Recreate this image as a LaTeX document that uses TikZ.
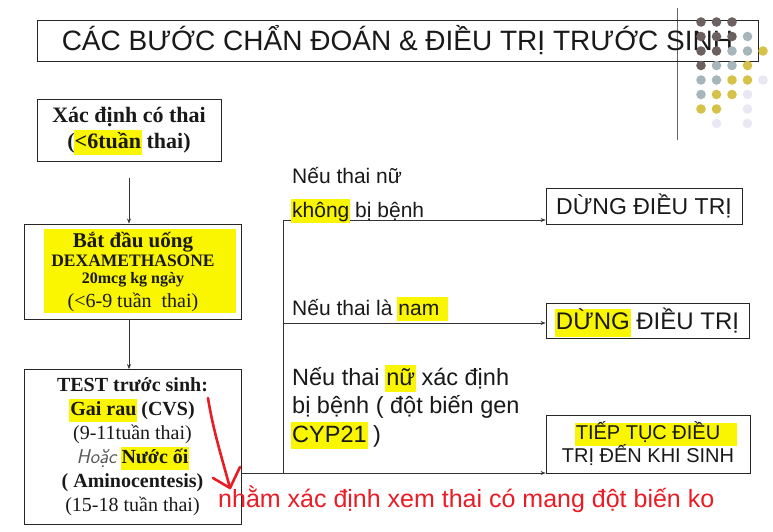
\documentclass[tikz,border=0pt]{standalone}
\usepackage{fontspec}
\setmainfont{Liberation Sans}
\newfontfamily\tnr{Liberation Serif}
\usetikzlibrary{arrows.meta}
\definecolor{hly}{RGB}{250,245,0}
\definecolor{redpen}{RGB}{232,28,36}
\definecolor{dotdark}{RGB}{108,96,96}
\definecolor{dotgray}{RGB}{166,182,188}
\definecolor{dotyel}{RGB}{214,194,72}
\definecolor{dotfaint}{RGB}{233,231,243}
% yellow marker behind a word, optional extra length on the right
\newcommand{\hl}[2][0pt]{\begingroup\setbox0\hbox{#2}%
  \rlap{\kern-1pt\smash{\color{hly}\rule[-0.3em]{\dimexpr\wd0+2pt+#1\relax}{1.15em}}}\box0\endgroup}

\begin{document}
\begin{tikzpicture}[x=1pt, y=-1pt,
    lbox/.style={draw=black!85, line width=0.9pt, align=center, inner sep=0pt, text=black!90},
    rbox/.style={draw=black!85, line width=0.9pt, align=center, inner sep=0pt, text=black!90},
    arr/.style={->, line width=0.6pt, draw=black!80},
    lbl/.style={anchor=base west, inner sep=0pt, align=left, text=black!90,
                font=\fontsize{21}{28}\selectfont},
    >={Stealth[length=5pt, width=4pt]}
  ]
  \useasboundingbox (0,0) rectangle (773,531);
  % template rule and title
  \draw[black!60, line width=0.6pt] (677,8) -- (677,140);
  \node[rbox, minimum width=721, minimum height=41,
        font=\fontsize{28}{30}\selectfont] (title) at (397.5,40.5)
        {CÁC BƯỚC CHẨN ĐOÁN \& ĐIỀU TRỊ TRƯỚC SINH};
  % dots of the slide template
  \foreach \c/\r/\col in {0/0/dotdark, 1/0/dotdark, 2/0/dotdark,
      0/1/dotdark, 1/1/dotdark, 2/1/dotdark, 3/1/dotgray,
      0/2/dotdark, 1/2/dotdark, 2/2/dotgray, 3/2/dotgray, 4/2/dotyel,
      0/3/dotdark, 1/3/dotgray, 2/3/dotgray, 3/3/dotyel,
      0/4/dotgray, 1/4/dotgray, 2/4/dotyel, 3/4/dotyel, 4/4/dotfaint,
      0/5/dotgray, 1/5/dotyel, 2/5/dotyel, 3/5/dotfaint,
      0/6/dotyel, 1/6/dotyel, 3/6/dotfaint,
      1/7/dotfaint, 3/7/dotfaint}
    \fill[\col] ({701+15.5*\c},{22+14.5*\r}) circle (4.8pt);

  % left column
  \node[lbox, minimum width=184, minimum height=62,
        font=\tnr\bfseries\fontsize{22}{26}\selectfont] (conf) at (129,130)
        {Xác định có thai\\(\hl{<6tuần} thai)};
  \fill[hly] (44,229) rectangle (236,313);
  \node[lbox, minimum width=217, minimum height=95,
        font=\tnr\bfseries\fontsize{20}{20}\selectfont] (dexa) at (133,271.5)
        {{\fontsize{21}{20}\selectfont Bắt đầu uống}\\[-1pt]
         {\fontsize{17.5}{20}\selectfont DEXAMETHASONE}\\[-3pt]
         {\fontsize{16}{20}\selectfont 20mcg kg ngày}\\[4pt]
         {\mdseries (<6-9 tuần\ \ thai)}};
  \node[lbox, minimum width=217, minimum height=155,
        font=\tnr\fontsize{20}{24}\selectfont] (test) at (132.5,447)
        {{\bfseries TEST trước sinh:}\\
         {\bfseries\hl{Gai rau} (CVS)}\\
         (9-11tuần thai)\\
         {\sffamily\itshape\color{black!65}Hoặc} {\bfseries\hl{Nước ối}}\\
         {\bfseries ( Aminocentesis)}\\
         (15-18 tuần thai)};
  \draw[arr, shorten <=17pt] (conf.south) -- (conf.south |- dexa.north);
  \draw[arr] (conf.south |- dexa.south) -- (conf.south |- test.north);

  % right column
  \node[rbox, minimum width=196, minimum height=36,
        font=\fontsize{23}{26}\selectfont] (stopA) at (644,206) {DỪNG ĐIỀU TRỊ};
  \node[rbox, minimum width=203, minimum height=35,
        font=\fontsize{24}{27}\selectfont] (stopB) at (647.5,320.5) {\hl{DỪNG} ĐIỀU TRỊ};
  \node[rbox, minimum width=204, minimum height=58,
        font=\fontsize{20}{23}\selectfont] (cont) at (648,444)
        {\hl[16pt]{TIẾP TỤC ĐIỀU}\\TRỊ ĐẾN KHI SINH};

  % branches
  \coordinate (j1) at (283,220);
  \coordinate (j2) at (283,323);
  \coordinate (j3) at (283,473);
  \draw[line width=0.6pt, black!80] (j1) -- (j3);
  \draw[arr] (j1) -- (j1 -| stopA.west);
  \draw[arr] (j2) -- (j2 -| stopB.west);
  \draw[arr] (test.east |- j3) -- (j3 -| cont.west);
  \node[lbl] (girl) at (292,183) {Nếu thai nữ};
  \node[lbl] (healthy) at (292,217) {\hl{không} bị bệnh};
  \node[lbl] (boy) at (292,315) {Nếu thai là \hl[8pt]{nam}};
  \node[lbl, font=\fontsize{23.5}{28.5}\selectfont] (sick) at (292,442)
        {Nếu thai \hl{nữ} xác định\\bị bệnh ( đột biến gen\\\hl{CYP21} )};

  % red note
  \coordinate (redtail) at (208,398);
  \coordinate (redtip) at (230,488);
  \draw[redpen, line width=2.6pt, line cap=round]
    (redtail) .. controls (213,430) and (222,458) .. (redtip);
  \draw[redpen, line width=2.6pt, line cap=round, line join=round]
    (213,478) -- (redtip) -- (240,467);
  \node[anchor=base west, inner sep=0pt, text=redpen,
        font=\fontsize{25}{28}\selectfont] (note) at (218,507)
        {nhằm xác định xem thai có mang đột biến ko};
\end{tikzpicture}
\end{document}
